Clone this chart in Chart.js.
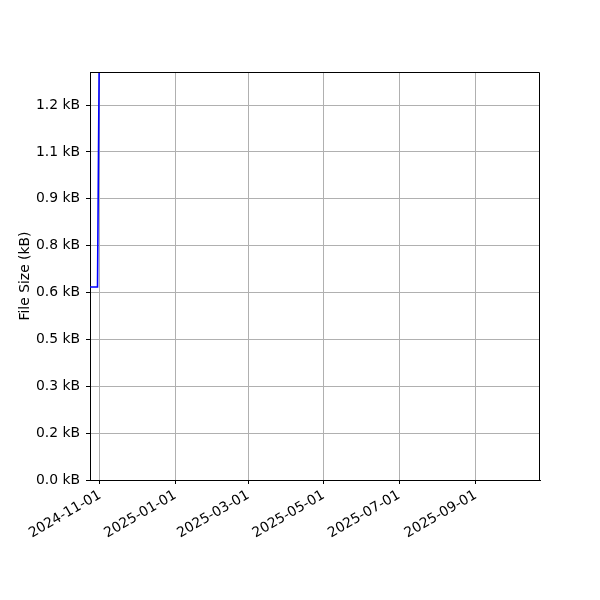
<!DOCTYPE html>
<html>
<head>
<meta charset="utf-8">
<script src="https://cdn.jsdelivr.net/npm/chart.js@4"></script>
<style>
  html, body { margin: 0; padding: 0; background: #ffffff; }
  #wrap { width: 600px; height: 600px; }
</style>
</head>
<body>
<div id="wrap"><canvas id="sizeChart" width="600" height="600"></canvas></div>
<script>
// file size history (bytes)
const dates = ["2024-10-23T22:00:00Z", "2024-10-30T00:00:00Z", "2024-11-01T00:00:00Z"];
const sizes = [659, 659, 1800];

// axis ranges and ticks
const xMin = "2024-10-23T22:00:00Z";
const xMax = "2025-10-23T00:00:00Z";
const xTickDates = ["2024-11-01", "2025-01-01", "2025-03-01", "2025-05-01", "2025-07-01", "2025-09-01"];
const yMax = 1393;
const yTickValues = [0, 160, 320, 480, 640, 800, 960, 1120, 1280];
const yTickLabels = ["0.0 kB", "0.2 kB", "0.3 kB", "0.5 kB", "0.6 kB", "0.8 kB", "0.9 kB", "1.1 kB", "1.2 kB"];

document.addEventListener("DOMContentLoaded", function () {
    const font = { family: "DejaVu Sans", size: 13.9 };

    // top, right and bottom spines drawn over the grid
    const frame = {
        id: "frame",
        afterDraw(chart) {
            const a = chart.chartArea;
            const c = chart.ctx;
            const l = Math.round(a.left) + 0.5, t = Math.round(a.top) + 0.5;
            const r = Math.round(a.right) - 0.5, b = Math.round(a.bottom) + 0.5;
            c.save();
            c.strokeStyle = "#000000";
            c.lineWidth = 1;
            c.beginPath();
            c.moveTo(l, t);
            c.lineTo(r, t);
            c.lineTo(r, b);
            c.lineTo(l, b);
            c.stroke();
            c.restore();
        }
    };

    const ctx = document.getElementById("sizeChart").getContext("2d");
    new Chart(ctx, {
        type: "line",
        data: {
            datasets: [
                {
                    label: "File Size",
                    data: dates.map((d, i) => ({ x: Date.parse(d), y: sizes[i] })),
                    borderColor: "#0000ff",
                    borderWidth: 1.6,
                    pointRadius: 0,
                    tension: 0,
                    fill: false,
                },
            ],
        },
        options: {
            responsive: false,
            animation: false,
            layout: { padding: { left: 13, top: 72, right: 60, bottom: 0 } },
            plugins: { legend: { display: false }, tooltip: { enabled: false } },
            scales: {
                x: {
                    type: "linear",
                    min: Date.parse(xMin),
                    max: Date.parse(xMax),
                    afterBuildTicks: function (scale) {
                        scale.ticks = xTickDates.map(d => ({ value: Date.parse(d) }));
                    },
                    afterFit: function (scale) { scale.height = 120; },
                    ticks: {
                        autoSkip: false,
                        maxRotation: 30,
                        minRotation: 30,
                        padding: 3,
                        color: "#000000",
                        font: font,
                        callback: function (value) {
                            return new Date(value).toISOString().slice(0, 10);
                        },
                    },
                    grid: { color: "#b0b0b0", lineWidth: 1, tickColor: "#000000", tickLength: 4 },
                    border: { color: "#000000" },
                },
                y: {
                    type: "linear",
                    min: 0,
                    max: yMax,
                    afterBuildTicks: function (scale) {
                        scale.ticks = yTickValues.map(v => ({ value: v }));
                    },
                    afterFit: function (scale) { scale.width = 77; },
                    ticks: {
                        padding: 6,
                        color: "#000000",
                        font: font,
                        callback: function (value, index) {
                            return yTickLabels[index];
                        },
                    },
                    title: {
                        display: true,
                        text: "File Size (kB)",
                        color: "#000000",
                        font: font,
                    },
                    grid: {
                        color: function (c) { return c.tick && c.tick.value === 0 ? "rgba(0,0,0,0)" : "#b0b0b0"; },
                        lineWidth: 1,
                        tickColor: "#000000",
                        tickLength: 4,
                    },
                    border: { color: "#000000" },
                },
            },
        },
        plugins: [frame],
    });
});
</script>
</body>
</html>
